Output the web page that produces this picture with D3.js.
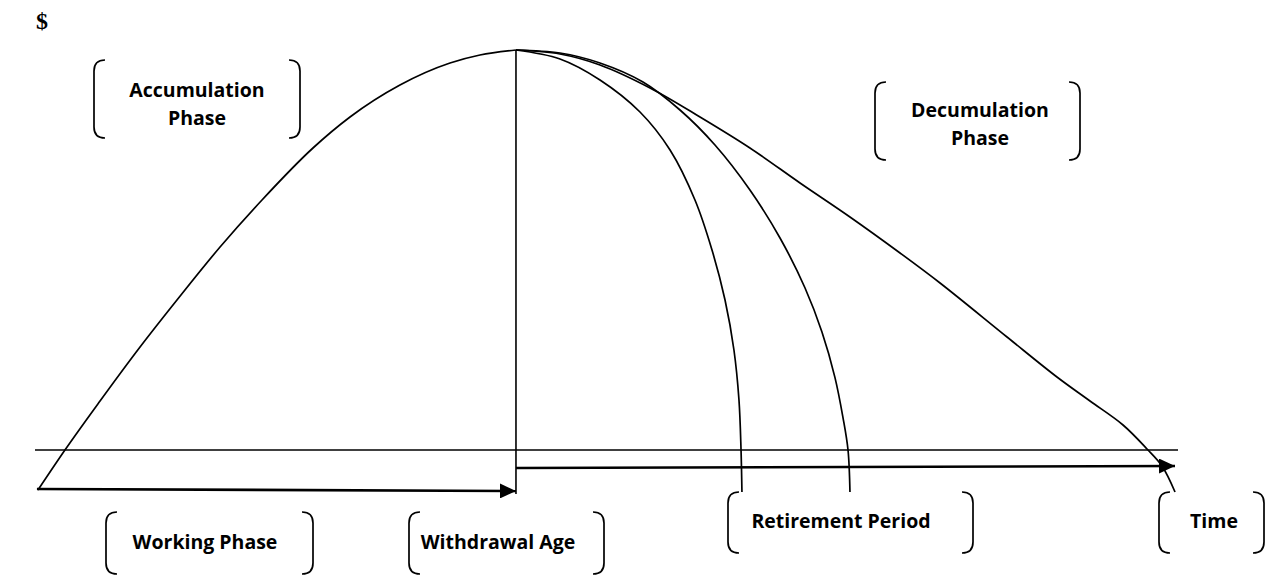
<!DOCTYPE html>
<html><head><meta charset="utf-8">
<script src="https://cdn.jsdelivr.net/npm/d3@7"></script>
<style>html,body{margin:0;padding:0;background:#fff;} svg{display:block}</style>
</head><body>
<svg id="chart" width="1270" height="576"></svg>
<script>
// ---------- data (time units 0..100, money units 0..100) ----------
const accumT = [0.26, 2.62, 5.69, 9.19, 12.42, 16.19, 19.86, 24.32, 27.56, 31.93, 36.31, 38.93, 42.08];
const accumV = [-10, 0, 12.25, 25.75, 37.5, 50.75, 62.5, 75.5, 83.25, 91.25, 96.75, 98.75, 100];

const fastT = [42.08, 45.93, 49.43, 52.93, 55.56, 57.74, 59.23, 60.37, 61.15, 61.59, 61.77, 61.85];
const fastV = [100, 97.75, 92.5, 84.5, 75, 62.5, 50, 37.5, 25, 12.5, 0, -10.5];

const midT = [42.08, 45.93, 49.43, 53.19, 56.43, 59.49, 62.55, 65.18, 67.37, 68.85, 69.99, 70.69, 71.13, 71.30];
const midV = [100, 99.25, 96.75, 92, 85, 76.25, 65, 53, 40.5, 29.5, 18.1, 8.1, 0, -10.5];

const slowT = [42.08, 45.93, 49.43, 53.81, 58.18, 62.55, 66.93, 71.30, 75.68, 79.18, 85.04, 89.41, 92.30, 95.19, 97.29, 98.60, 99.74];
const slowV = [100, 99, 96.25, 90.5, 83.25, 75.5, 66.75, 58.25, 49.25, 41.75, 28.25, 18.25, 12.25, 6.25, 0.25, -4, -10.5];

const axisT = [0, 100];
const axisV = [0, 0];
const withdrawT = [42.08, 42.08];
const withdrawV = [100, -11];
const workArrowT = [0.17, 42.08];
const workArrowV = [-9.75, -10.25];
const drawArrowT = [42.08, 99.74];
const drawArrowV = [-4.5, -4];

const yLabel = "$";
const phaseLabels = [
  ["Accumulation", "Phase"],
  ["Decumulation", "Phase"],
  ["Working Phase"],
  ["Withdrawal Age"],
  ["Retirement Period"],
  ["Time"]
];

// ---------- layout ----------
const boxes = [
  {x0: 94,  x1: 300,  y0: 60,  y1: 138, cx: 197,  base: [97, 125]},
  {x0: 875, x1: 1080, y0: 82,  y1: 160, cx: 980,  base: [117, 145]},
  {x0: 106, x1: 313,  y0: 512, y1: 574, cx: 205,  base: [549]},
  {x0: 409, x1: 604,  y0: 512, y1: 574, cx: 498,  base: [549]},
  {x0: 728, x1: 973,  y0: 492, y1: 553, cx: 841,  base: [528]},
  {x0: 1159,x1: 1264, y0: 492, y1: 553, cx: 1214, base: [528]}
];

const svg = d3.select("#chart");
const x = d3.scaleLinear().domain([0, 100]).range([35, 1178]);
const y = d3.scaleLinear().domain([0, 100]).range([450, 50]);

const defs = svg.append("defs");
defs.append("marker")
  .attr("id", "arrow")
  .attr("markerUnits", "userSpaceOnUse")
  .attr("viewBox", "0 0 16 15")
  .attr("refX", 16).attr("refY", 7.5)
  .attr("markerWidth", 16).attr("markerHeight", 15)
  .attr("orient", "auto")
  .append("path").attr("d", "M0,0 L16,7.5 L0,15 Z").attr("fill", "#000");

const zip = (ts, vs) => ts.map((t, i) => [t, vs[i]]);
const smooth = d3.line().x(d => x(d[0])).y(d => y(d[1])).curve(d3.curveCatmullRom.alpha(0.5));
const rising = d3.line().x(d => x(d[0])).y(d => y(d[1])).curve(d3.curveMonotoneX);
const straight = d3.line().x(d => x(d[0])).y(d => y(d[1]));

const g = svg.append("g").attr("fill", "none").attr("stroke", "#000");

g.append("path").attr("d", straight(zip(axisT, axisV))).attr("stroke-width", 1.6);
g.append("path").attr("d", straight(zip(withdrawT, withdrawV))).attr("stroke-width", 1.6);
g.append("path").attr("d", rising(zip(accumT, accumV))).attr("stroke-width", 1.7);
[[fastT, fastV], [midT, midV], [slowT, slowV]].forEach(([ts, vs]) => {
  g.append("path").attr("d", smooth(zip(ts, vs))).attr("stroke-width", 1.7);
});
g.append("path").attr("d", straight(zip(workArrowT, workArrowV)))
  .attr("stroke-width", 2.6).attr("marker-end", "url(#arrow)");
g.append("path").attr("d", straight(zip(drawArrowT, drawArrowV)))
  .attr("stroke-width", 2.6).attr("marker-end", "url(#arrow)");

svg.append("text").attr("x", 36).attr("y", 29)
  .attr("font-family", "'Liberation Serif', 'Times New Roman', serif")
  .attr("font-weight", "bold").attr("font-size", 24).text(yLabel);

const r = 11;
boxes.forEach((b, i) => {
  const lp = `M${b.x0 + r},${b.y0} Q${b.x0},${b.y0} ${b.x0},${b.y0 + r} L${b.x0},${b.y1 - r} Q${b.x0},${b.y1} ${b.x0 + r},${b.y1}`;
  const rp = `M${b.x1 - r},${b.y0} Q${b.x1},${b.y0} ${b.x1},${b.y0 + r} L${b.x1},${b.y1 - r} Q${b.x1},${b.y1} ${b.x1 - r},${b.y1}`;
  g.append("path").attr("d", lp).attr("stroke-width", 1.7);
  g.append("path").attr("d", rp).attr("stroke-width", 1.7);
  phaseLabels[i].forEach((line, j) => {
    svg.append("text").attr("x", b.cx).attr("y", b.base[j])
      .attr("text-anchor", "middle")
      .attr("font-family", "'Open Sans', sans-serif")
      .attr("font-weight", "bold").attr("font-size", 19.5)
      .attr("fill", "#000").text(line);
  });
});
</script>
</body></html>
